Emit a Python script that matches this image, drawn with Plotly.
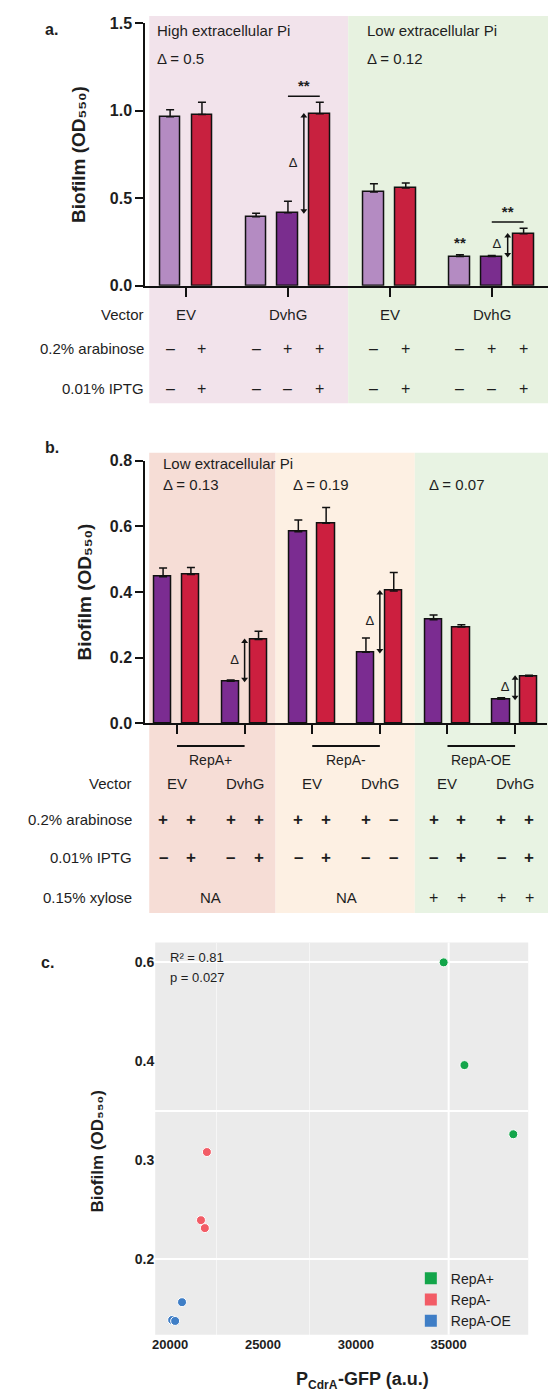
import plotly.graph_objects as go

# ---------------- data ----------------
# Panel a
a_group_sizes = [2, 3, 2, 3]
a_vector = ["EV", "DvhG", "EV", "DvhG"]
a_values = [0.964, 0.977, 0.394, 0.416, 0.981, 0.535, 0.558, 0.166, 0.166, 0.296]
a_errors = [0.040, 0.070, 0.020, 0.066, 0.066, 0.047, 0.028, 0.010, 0.006, 0.032]
a_kind = ["light", "red", "light", "dark", "red", "light", "red", "light", "dark", "red"]
a_arabinose = ["-", "+", "-", "+", "+", "-", "+", "-", "+", "+"]
a_iptg = ["-", "+", "-", "-", "+", "-", "+", "-", "-", "+"]
a_titles = ["High extracellular Pi", "Low extracellular Pi"]
a_deltas = ["Δ = 0.5", "Δ = 0.12"]

# Panel b
b_groups = ["RepA+", "RepA-", "RepA-OE"]
b_vector = ["EV", "DvhG", "EV", "DvhG", "EV", "DvhG"]
b_values = [0.446, 0.453, 0.128, 0.255, 0.583, 0.609, 0.216, 0.403, 0.315, 0.293, 0.073, 0.143]
b_errors = [0.027, 0.021, 0.004, 0.025, 0.036, 0.048, 0.044, 0.056, 0.015, 0.007, 0.005, 0.003]
b_arabinose = ["+", "+", "+", "+", "+", "+", "+", "-", "+", "+", "+", "+"]
b_iptg = ["-", "+", "-", "+", "-", "+", "-", "-", "-", "+", "-", "+"]
b_xylose = ["NA", "NA", ["+", "+", "+", "+"]]
b_deltas = ["Δ = 0.13", "Δ = 0.19", "Δ = 0.07"]

# Panel c
c_names = ["RepA+", "RepA-", "RepA-OE"]
c_x = [[34730, 35850, 38480], [21980, 21660, 21870], [20640, 20110, 20270]]
c_y = [[0.600, 0.396, 0.326], [0.308, 0.239, 0.231], [0.156, 0.138, 0.137]]
c_xticks = [20000, 25000, 30000, 35000]
c_yticks_low = [0.2, 0.3, 0.4]
c_yticks_high = [0.6]

Y_TITLE = "Biofilm (OD₅₅₀)"
X_TITLE_PARTS = ["P", "CdrA", "-GFP (a.u.)"]

# ---------------- styling ----------------
W, H = 556, 1400
FONT = "Liberation Sans, Arial, sans-serif"
TXT = "#1e1e1e"
a_colors = {"light": "#b48bc2", "dark": "#7a2d8e", "red": "#c8213f"}
b_colors = ["#7b2c91", "#cc1f3f"]
c_colors = ["#13a54a", "#f25c66", "#3f7ec6"]


def fx(px):
    return px / W


def fy(py):
    return 1 - py / H


fig = go.Figure()
shapes = []
ann = []


def text(xpx, ypx, s, size=15, bold=False, xanchor="left", xref="paper", xval=None, angle=0):
    ann.append(dict(
        x=fx(xpx) if xref == "paper" else xval, y=fy(ypx), xref=xref, yref="paper",
        text=f"<b>{s}</b>" if bold else s, showarrow=False, xanchor=xanchor, yanchor="middle",
        textangle=angle, font=dict(family=FONT, size=size, color=TXT)))


def rect(x0, x1, y0, y1, color):
    shapes.append(dict(type="rect", xref="paper", yref="paper", x0=fx(x0), x1=fx(x1),
                       y0=fy(y1), y1=fy(y0), fillcolor=color, line=dict(width=0), layer="below"))


def dbl_arrow(xax, yax, x, y_lo, y_hi):
    fig.add_trace(go.Scatter(
        x=[x, x], y=[y_lo, y_hi], xaxis=xax, yaxis=yax, mode="lines+markers",
        line=dict(color="#111", width=1.5),
        marker=dict(symbol=["triangle-down", "triangle-up"], size=6, color="#111"),
        showlegend=False, hoverinfo="skip", cliponaxis=False))


def data_text(xax, yax, xs, ys, labels, size, pos, bold=False):
    fig.add_trace(go.Scatter(
        x=xs, y=ys, xaxis=xax, yaxis=yax, mode="text",
        text=[f"<b>{t}</b>" if bold else t for t in labels], textposition=pos,
        textfont=dict(family=FONT, size=size, color=TXT),
        showlegend=False, hoverinfo="skip", cliponaxis=False))


# ================= Panel a =================
a_pos, a_centers = [], []
start = 0.0
for g in a_group_sizes:
    p = [start + k for k in range(g)]
    a_pos += p
    a_centers.append(sum(p) / g)
    start = p[-1] + 1.7

rect(139, 339, 0, 392, "#f2e3eb")
rect(339, 541, 0, 392, "#e7f2e0")

fig.add_trace(go.Bar(
    x=a_pos, y=a_values, width=0.64, xaxis="x", yaxis="y",
    marker=dict(color=[a_colors[k] for k in a_kind], line=dict(color="#111", width=1.5)),
    error_y=dict(type="data", array=a_errors, arrayminus=[0] * len(a_errors), symmetric=False,
                 color="#111", thickness=1.5, width=4),
    showlegend=False))

text(32, 14, "a.", 16, True)
text(145, 15, a_titles[0], 15)
text(145, 43, a_deltas[0], 15)
text(356, 15, a_titles[1], 15)
text(356, 43, a_deltas[1], 15)

# significance marks and delta arrows
star_x, star_y = [], []
dl_x, dl_y = [], []
for i, j in [(3, 4), (8, 9)]:
    top = max(a_values[i] + a_errors[i], a_values[j] + a_errors[j])
    shapes.append(dict(type="line", xref="x", yref="y", x0=a_pos[i], x1=a_pos[j],
                       y0=top + 0.035, y1=top + 0.035, line=dict(color="#111", width=1.5)))
    star_x.append((a_pos[i] + a_pos[j]) / 2)
    star_y.append(top + 0.045)
    mid = (a_pos[i] + a_pos[j]) / 2
    dbl_arrow("x", "y", mid, a_values[i] + 0.012, a_values[j] - 0.012)
    dl_x.append(mid - 0.2)
    dl_y.append((a_values[i] + a_values[j]) / 2)
star_x.append(a_pos[7])
star_y.append(a_values[7] + a_errors[7] + 0.015)
data_text("x", "y", star_x, star_y, ["**"] * len(star_x), 15, "top center", bold=True)
data_text("x", "y", dl_x, dl_y, ["Δ"] * len(dl_x), 13, "middle left")

text(136, 302, "Vector", 15, xanchor="right")
text(136, 337, "0.2% arabinose", 15, xanchor="right")
text(136, 377, "0.01% IPTG", 15, xanchor="right")
for c, lab in zip(a_centers, a_vector):
    text(0, 302, lab, 15, xanchor="center", xref="x", xval=c)
for p, s1, s2 in zip(a_pos, a_arabinose, a_iptg):
    text(0, 337, "–" if s1 == "-" else "+", 16, xanchor="center", xref="x", xval=p)
    text(0, 377, "–" if s2 == "-" else "+", 16, xanchor="center", xref="x", xval=p)

text(68, 140, Y_TITLE, 19, True, xanchor="center", angle=-90)

# ================= Panel b =================
b_pos = [i + 0.43 * (i // 2) for i in range(len(b_values))]
b_pair_centers = [(b_pos[2 * k] + b_pos[2 * k + 1]) / 2 for k in range(len(b_values) // 2)]

rect(139, 266, 442, 908, "#f6ddd6")
rect(266, 406, 442, 908, "#fdf0e3")
rect(406, 556, 442, 908, "#e8f3e3")

fig.add_trace(go.Bar(
    x=b_pos, y=b_values, width=0.62, xaxis="x2", yaxis="y2",
    marker=dict(color=[b_colors[i % 2] for i in range(len(b_values))], line=dict(color="#111", width=1.5)),
    error_y=dict(type="data", array=b_errors, arrayminus=[0] * len(b_errors), symmetric=False,
                 color="#111", thickness=1.5, width=4),
    showlegend=False))

text(32, 437, "b.", 16, True)
text(151, 453, "Low extracellular Pi", 15)
for xpx, d in zip([151, 282, 418], b_deltas):
    text(xpx, 474, d, 15)

bdl_x, bdl_y = [], []
for k in range(3):
    i, j = 4 * k + 2, 4 * k + 3
    mid = (b_pos[i] + b_pos[j]) / 2
    dbl_arrow("x2", "y2", mid, b_values[i] + 0.006, b_values[j] - 0.006)
    bdl_x.append(mid - 0.2)
    bdl_y.append((b_values[i] + b_values[j]) / 2)
data_text("x2", "y2", bdl_x, bdl_y, ["Δ"] * len(bdl_x), 13, "middle left")

for k, name in enumerate(b_groups):
    c0, c1 = b_pair_centers[2 * k], b_pair_centers[2 * k + 1]
    shapes.append(dict(type="line", xref="x2", yref="paper", x0=c0, x1=c1, y0=fy(739), y1=fy(739),
                       line=dict(color="#111", width=2)))
    text(0, 753, name, 14, xanchor="center", xref="x2", xval=(c0 + c1) / 2)
    xy = b_xylose[k]
    if isinstance(xy, str):
        text(0, 892, xy, 15, xanchor="center", xref="x2", xval=(c0 + c1) / 2)
    else:
        for p, s in zip(b_pos[4 * k:4 * k + 4], xy):
            text(0, 892, s, 16, xanchor="center", xref="x2", xval=p)

text(124, 777, "Vector", 15, xanchor="right")
text(124, 813, "0.2% arabinose", 15, xanchor="right")
text(124, 852, "0.01% IPTG", 15, xanchor="right")
text(124, 892, "0.15% xylose", 15, xanchor="right")
for c, lab in zip(b_pair_centers, b_vector):
    text(0, 777, lab, 15, xanchor="center", xref="x2", xval=c)
for p, s1, s2 in zip(b_pos, b_arabinose, b_iptg):
    text(0, 813, "–" if s1 == "-" else "+", 17, True, xanchor="center", xref="x2", xval=p)
    text(0, 852, "–" if s2 == "-" else "+", 17, True, xanchor="center", xref="x2", xval=p)

text(74, 583, Y_TITLE, 19, True, xanchor="center", angle=-90)

# ================= Panel c =================
rect(145, 520, 938, 1335, "#ebebeb")
shapes.append(dict(type="line", xref="x3", yref="paper", x0=35000, x1=35000, y0=fy(1335), y1=fy(938),
                   line=dict(color="white", width=2), layer="below"))

for name, xs, ys, col in zip(c_names, c_x, c_y, c_colors):
    for yax in ["y3", "y4"]:
        fig.add_trace(go.Scatter(x=xs, y=ys, mode="markers", xaxis="x3", yaxis=yax, cliponaxis=True,
                                 marker=dict(color=col, size=9, line=dict(color="white", width=1)),
                                 showlegend=False, name=name))
    fig.add_trace(go.Scatter(x=[None], y=[None], mode="markers", xaxis="x3", yaxis="y3", name=name,
                             marker=dict(color=col, size=11, symbol="square"), showlegend=True))

text(28, 958, "c.", 16, True)
text(158, 953, "R² = 0.81", 13)
text(158, 973, "p = 0.027", 13)
text(86, 1150, Y_TITLE, 17, True, xanchor="center", angle=-90)
# x title: P with subscript CdrA, composed from three text pieces
text(285, 1380, X_TITLE_PARTS[0], 18, True)
text(297, 1386, X_TITLE_PARTS[1], 12, True)
text(327, 1380, X_TITLE_PARTS[2], 18, True)

# ---------------- layout ----------------
axis_common = dict(showgrid=False, zeroline=False, showline=True, linecolor="#111", linewidth=2)
tickfont_big = dict(family=FONT, size=16, color=TXT, weight="bold")
tickfont_c = dict(family=FONT, size=13, color=TXT, weight="bold")

fig.update_layout(
    width=W, height=H, margin=dict(l=0, r=0, t=0, b=0),
    paper_bgcolor="white", plot_bgcolor="rgba(0,0,0,0)",
    shapes=shapes, annotations=ann, bargap=0,
    xaxis=dict(domain=[fx(135), fx(541)], range=[-0.78, 11.9], anchor="y", ticks="outside",
               tickvals=a_centers, ticklen=9, tickwidth=2, tickcolor="#111", showticklabels=False,
               **axis_common),
    yaxis=dict(domain=[fy(273), fy(7)], range=[0, 1.5], anchor="x", ticks="outside",
               tickvals=[0, 0.5, 1.0, 1.5], tickformat=".1f", ticklen=8, tickwidth=2, tickcolor="#111",
               tickfont=tickfont_big, **axis_common),
    xaxis2=dict(domain=[fx(135), fx(539)], range=[-0.64, 13.8], anchor="y2", ticks="outside",
                tickvals=b_pair_centers, ticklen=9, tickwidth=2, tickcolor="#111", showticklabels=False,
                **axis_common),
    yaxis2=dict(domain=[fy(716), fy(450)], range=[0, 0.8], anchor="x2", ticks="outside",
                tickvals=[0, 0.2, 0.4, 0.6, 0.8], tickformat=".1f", ticklen=8, tickwidth=2,
                tickcolor="#111", tickfont=tickfont_big, **axis_common),
    xaxis3=dict(domain=[fx(145), fx(520)], range=[19197, 39283], anchor="y3", showline=False,
                zeroline=False, showgrid=False, tickvals=c_xticks, tickformat="d", ticks="",
                tickfont=tickfont_c,
                minor=dict(tickvals=[22500, 27500], showgrid=True, gridcolor="rgba(255,255,255,0.55)",
                           gridwidth=1)),
    yaxis3=dict(domain=[fy(1335), fy(1000)], range=[0.123, 0.458], anchor="x3", showline=False,
                zeroline=False, showgrid=False, tickvals=c_yticks_low, tickformat=".1f", ticks="",
                tickfont=dict(family=FONT, size=14, color=TXT, weight="bold"),
                minor=dict(tickvals=[0.2, 0.35], showgrid=True, gridcolor="white", gridwidth=2)),
    yaxis4=dict(domain=[fy(1000), fy(938)], range=[0.558, 0.62], anchor="x3", showline=False,
                zeroline=False, showgrid=True, gridcolor="white", gridwidth=2, tickvals=c_yticks_high,
                tickformat=".1f", ticks="",
                tickfont=dict(family=FONT, size=14, color=TXT, weight="bold")),
    legend=dict(x=fx(402), y=fy(1262), xanchor="left", yanchor="top", bgcolor="rgba(0,0,0,0)",
                font=dict(family=FONT, size=14, color=TXT), tracegroupgap=0, itemsizing="constant"),
    showlegend=True,
)

fig.write_html("out.html")
